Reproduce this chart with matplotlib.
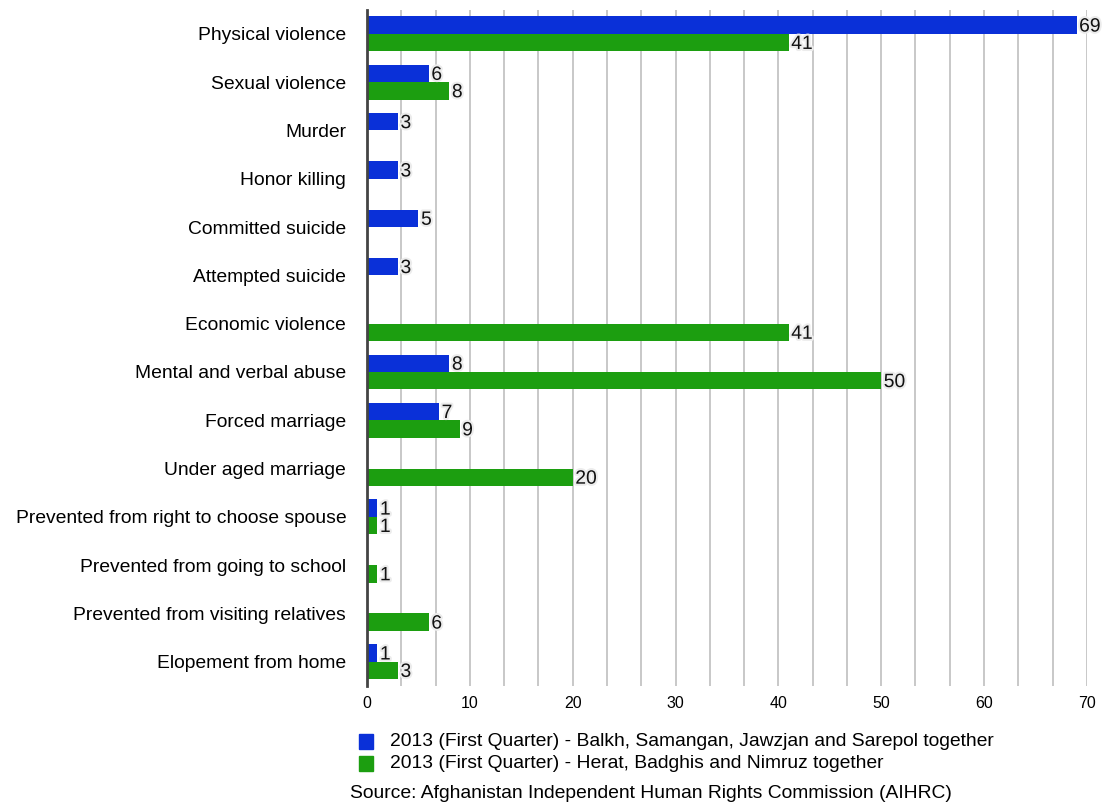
import numpy as np
import matplotlib.pyplot as plt
import matplotlib.patheffects as pe
from matplotlib.patches import Rectangle

plt.rcParams['font.family'] = ['Liberation Sans', 'DejaVu Sans']

categories = [
    'Physical violence', 'Sexual violence', 'Murder', 'Honor killing',
    'Committed suicide', 'Attempted suicide', 'Economic violence',
    'Mental and verbal abuse', 'Forced marriage', 'Under aged marriage',
    'Prevented from right to choose spouse', 'Prevented from going to school',
    'Prevented from visiting relatives', 'Elopement from home',
]
# None = no cases reported for that region group
north = [69, 6, 3, 3, 5, 3, None, 8, 7, None, 1, None, None, 1]
west = [41, 8, None, None, None, None, 41, 50, 9, 20, 1, 1, 6, 3]

north_label = '2013 (First Quarter) - Balkh, Samangan, Jawzjan and Sarepol together'
west_label = '2013 (First Quarter) - Herat, Badghis and Nimruz together'
source = 'Source: Afghanistan Independent Human Rights Commission (AIHRC)'

blue = '#0a30d8'
green = '#1c9e10'
fs = 13.9

fig = plt.figure(figsize=(11.09, 8.06), dpi=100)
ax = fig.add_axes([0.331, 0.149, 0.649, 0.839])

y = np.arange(len(categories))
h = 0.36
shadow = [pe.withStroke(linewidth=3, foreground='#ececec')]

for vals, off, col in [(north, -h / 2, blue), (west, h / 2, green)]:
    for i, v in enumerate(vals):
        if v is None:
            continue
        ax.barh(y[i] + off, v, height=h, color=col, zorder=3)
        ax.text(v + 0.25, y[i] + off + 0.04, str(v), va='center', ha='left',
                fontsize=fs, color='#111111', zorder=4, path_effects=shadow)

ax.set_xlim(0, 70)
ax.set_ylim(len(categories) - 0.5, -0.5)
ax.set_xticks(np.arange(0, 71, 10))
ax.set_xticks(np.arange(0, 70.1, 10 / 3), minor=True)
ax.tick_params(axis='x', which='both', length=0, labelsize=11.5, pad=7)
ax.grid(axis='x', which='both', color='#c4c4c4', linewidth=1.3, zorder=0)
ax.set_yticks(y)
ax.set_yticklabels(categories, fontsize=fs)
ax.tick_params(axis='y', length=0, pad=15)

for s in ['top', 'right', 'bottom']:
    ax.spines[s].set_visible(False)
ax.spines['left'].set_color('#444444')
ax.spines['left'].set_linewidth(2)
ax.spines['left'].set_zorder(5)

# legend and source line drawn directly in figure coordinates
for yy, col, lab in [(0.080, blue, north_label), (0.053, green, west_label)]:
    fig.patches.append(Rectangle((0.3235, yy - 0.009), 0.0128, 0.018,
                                 transform=fig.transFigure, color=col))
    fig.text(0.352, yy, lab, fontsize=fs, va='center', ha='left')
fig.text(0.316, 0.016, source, fontsize=fs, va='center', ha='left')

fig.savefig('out.png', dpi=100)
